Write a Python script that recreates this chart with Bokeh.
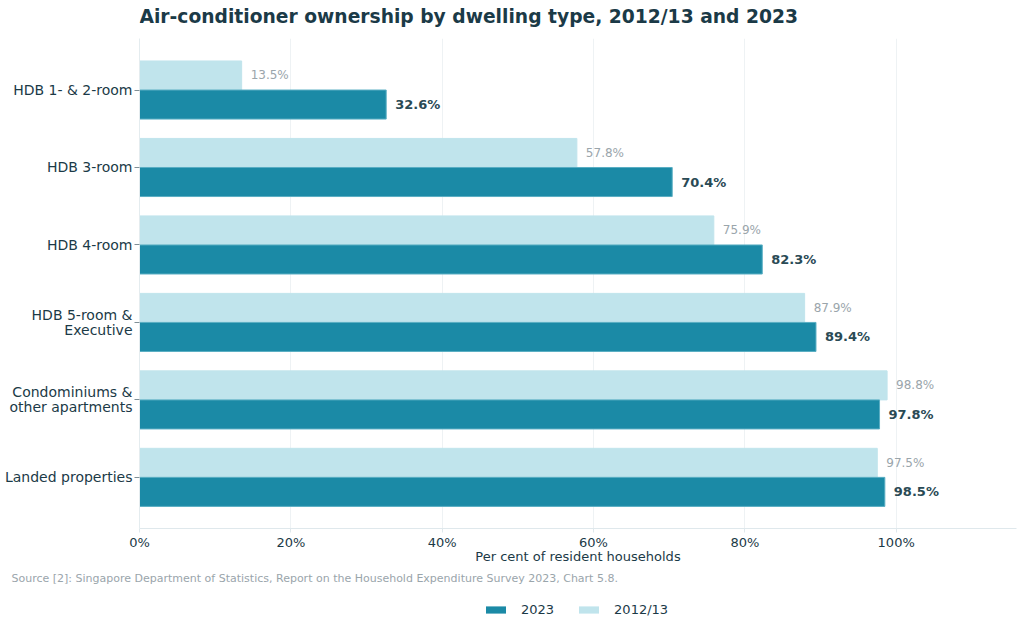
from bokeh.plotting import figure
from bokeh.models import (ColumnDataSource, Range1d, FixedTicker, PrintfTickFormatter,
                          LabelSet, Label, Legend, LegendItem)
from bokeh.layouts import column
from bokeh.core.properties import value
from bokeh.embed import file_html
from bokeh.resources import INLINE

categories = ["HDB 1- & 2-room", "HDB 3-room", "HDB 4-room",
              "HDB 5-room &\nExecutive", "Condominiums &\nother apartments",
              "Landed properties"]
v2023 = [32.6, 70.4, 82.3, 89.4, 97.8, 98.5]
v2012 = [13.5, 57.8, 75.9, 87.9, 98.8, 97.5]
x_ticks = [0, 20, 40, 60, 80, 100]
series_names = ["2023", "2012/13"]

FONT = "DejaVu Sans"
DARK = "#1b8aa6"
LIGHT = "#c0e4ec"
TXT = "#1b3a47"
GRAY = "#9aa5ab"
BAR_H = 0.375

idx = list(range(len(categories)))
src = ColumnDataSource(dict(
    y23=[i + BAR_H / 2 for i in idx],
    y12=[i - BAR_H / 2 for i in idx],
    v23=v2023, v12=v2012,
    l23=[f"{v:.1f}%" for v in v2023],
    l12=[f"{v:.1f}%" for v in v2012],
))

# header with the chart title
h = figure(width=1024, height=38, output_backend="svg", toolbar_location=None,
           x_axis_type=None, y_axis_type=None, title_location=None,
           x_range=Range1d(0, 877), y_range=Range1d(0, 38),
           min_border_left=0, min_border_right=0, min_border_top=0,
           min_border_bottom=0)
h.grid.visible = False
h.outline_line_color = None
h.add_layout(Label(text="Air-conditioner ownership by dwelling type, 2012/13 and 2023",
                   x=0, y=22, text_baseline="alphabetic", text_font=FONT,
                   text_font_size="18.7px", text_font_style="bold", text_color=TXT))

# main chart
p = figure(width=1024, height=528, output_backend="svg", toolbar_location=None,
           title_location=None,
           x_range=Range1d(0, 115.9), y_range=Range1d(5.66, -0.665),
           min_border_left=139, min_border_right=8, min_border_top=0,
           min_border_bottom=38)
p.outline_line_color = None
p.background_fill_color = "white"

r12 = p.hbar(y="y12", right="v12", left=0, height=BAR_H, source=src,
             fill_color=LIGHT, line_color=LIGHT)
r23 = p.hbar(y="y23", right="v23", left=0, height=BAR_H, source=src,
             fill_color=DARK, line_color="#5aaec3", line_width=1)

p.add_layout(LabelSet(x="v12", y="y12", text="l12", source=src, x_offset=9,
                      text_baseline="middle", text_font=value(FONT),
                      text_font_size="12px", text_color=GRAY))
p.add_layout(LabelSet(x="v23", y="y23", text="l23", source=src, x_offset=9,
                      text_baseline="middle", text_font=value(FONT),
                      text_font_size="13px", text_font_style="bold",
                      text_color="#2a4a55"))

p.yaxis.ticker = FixedTicker(ticks=idx)
p.yaxis.major_label_overrides = {i: c for i, c in zip(idx, categories)}
p.yaxis.major_label_text_font = FONT
p.yaxis.major_label_text_font_size = "14px"
p.yaxis.major_label_text_line_height = 0.95
p.yaxis.major_label_text_color = TXT
p.yaxis.axis_line_color = "#e4ecef"
p.yaxis.major_tick_line_color = "#7f8f96"
p.yaxis.major_tick_out = 5
p.yaxis.major_tick_in = 0
p.yaxis.minor_tick_line_color = None
p.yaxis.major_label_standoff = 2

p.xaxis.ticker = FixedTicker(ticks=x_ticks)
p.xaxis.formatter = PrintfTickFormatter(format="%d%%")
p.xaxis.major_label_text_font = FONT
p.xaxis.major_label_text_font_size = "13px"
p.xaxis.major_label_text_color = TXT
p.xaxis.axis_line_color = "#dfe8ec"
p.xaxis.major_tick_line_color = "#dfe8ec"
p.xaxis.major_tick_out = 4
p.xaxis.major_tick_in = 0
p.xaxis.minor_tick_line_color = None
p.xaxis.major_label_standoff = 2
p.xaxis.axis_label = "Per cent of resident households"
p.xaxis.axis_label_text_font = FONT
p.xaxis.axis_label_text_font_size = "13px"
p.xaxis.axis_label_text_font_style = "normal"
p.xaxis.axis_label_text_color = TXT
p.xaxis.axis_label_standoff = -4

p.xgrid.grid_line_color = "#eef2f4"
p.ygrid.grid_line_color = None

# footer: source note + legend
f = figure(width=1024, height=62, output_backend="svg", toolbar_location=None,
           x_axis_type=None, y_axis_type=None,
           x_range=Range1d(0, 1), y_range=Range1d(0, 1),
           min_border_left=0, min_border_right=0, min_border_top=18,
           min_border_bottom=0)
f.grid.visible = False
f.outline_line_color = None
f.title.text = "Source [2]: Singapore Department of Statistics, Report on the Household Expenditure Survey 2023, Chart 5.8."
f.title.align = "left"
f.title.offset = -128
f.title.standoff = 0
f.title.text_font = FONT
f.title.text_font_size = "11px"
f.title.text_font_style = "normal"
f.title.text_color = GRAY

k23 = f.hbar(y=[-50], right=[-40], left=-50, height=1, fill_color=DARK, line_color=None)
k12 = f.hbar(y=[-50], right=[-40], left=-50, height=1, fill_color=LIGHT, line_color=None)
legend = Legend(items=[LegendItem(label=series_names[0], renderers=[k23]),
                       LegendItem(label=series_names[1], renderers=[k12])],
                orientation="horizontal", location=(344, 11),
                border_line_color=None, background_fill_alpha=0,
                glyph_width=25, glyph_height=9, label_standoff=13, spacing=22,
                label_text_font=FONT, label_text_font_size="13px",
                label_text_color=TXT, padding=4, margin=0)
f.add_layout(legend, "center")

layout = column(h, p, f, spacing=0)
open("out.html", "w").write(file_html(layout, INLINE))
